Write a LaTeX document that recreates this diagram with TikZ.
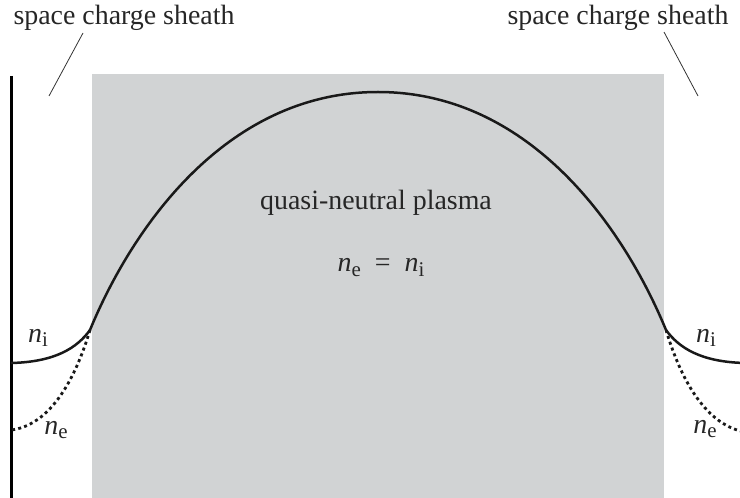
\documentclass[tikz,border=0pt]{standalone}
\usepackage{fontspec}
\setmainfont{Liberation Serif}
\newcommand\dens[2]{\textit{#1}\raisebox{-0.32ex}{\fontsize{21}{21}\selectfont #2}}
\begin{document}
\begin{tikzpicture}[x=1bp,y=-1bp,
  lbl/.style={font=\fontsize{28}{30}\selectfont, text=black!85, inner sep=0pt, anchor=base},
  curve/.style={line width=2.5bp, black!90},
  dotcurve/.style={line width=2.8bp, black!90, dash pattern=on 3bp off 3.2bp},
  leader/.style={line width=0.8bp, black!80}]
\useasboundingbox (0,0) rectangle (740,498);
\definecolor{plasmagray}{RGB}{209,211,212}
\clip (0,0) rectangle (740,498);
\fill[plasmagray] (92,74) rectangle (664,498);
\draw[line width=3bp] (11,76) -- (11,498);
% coordinates
\coordinate (wl) at (11,363);
\coordinate (wle) at (11,430);
\coordinate (jl) at (90,330);
\coordinate (top) at (378,92);
\coordinate (jr) at (666,330);
\coordinate (wr) at (745,363);
\coordinate (wre) at (745,432);
% main curve
\draw[curve] (wl) .. controls (55,362) and (77,348) .. (jl)
  .. controls (132,228) and (226,92) .. (top)
  .. controls (530,92) and (624,228) .. (jr)
  .. controls (679,348) and (701,362) .. (wr);
\draw[dotcurve] (jl) .. controls (72,390) and (45,426) .. (wle);
\draw[dotcurve] (jr) .. controls (684,390) and (711,426) .. (wre);
% labels
\node[lbl] (sl) at (124,25) {space charge sheath};
\node[lbl] (sr) at (618,25) {space charge sheath};
\coordinate (sla) at (83,33); \coordinate (slb) at (49,96);
\coordinate (sra) at (664,32); \coordinate (srb) at (698,96);
\draw[leader] (sla) -- (slb);
\draw[leader] (sra) -- (srb);
\node[lbl] (qn) at (376,210) {quasi-neutral plasma};
\node[lbl] (eq) at (381,272) {\dens{n}{e}\hspace{0.5em}=\hspace{0.5em}\dens{n}{i}};
\node[lbl] (nil) at (38,342) {\dens{n}{i}};
\node[lbl] (nel) at (56,434) {\dens{n}{e}};
\node[lbl] (nir) at (706,342) {\dens{n}{i}};
\node[lbl] (ner) at (705,433) {\dens{n}{e}};
\end{tikzpicture}
\end{document}
